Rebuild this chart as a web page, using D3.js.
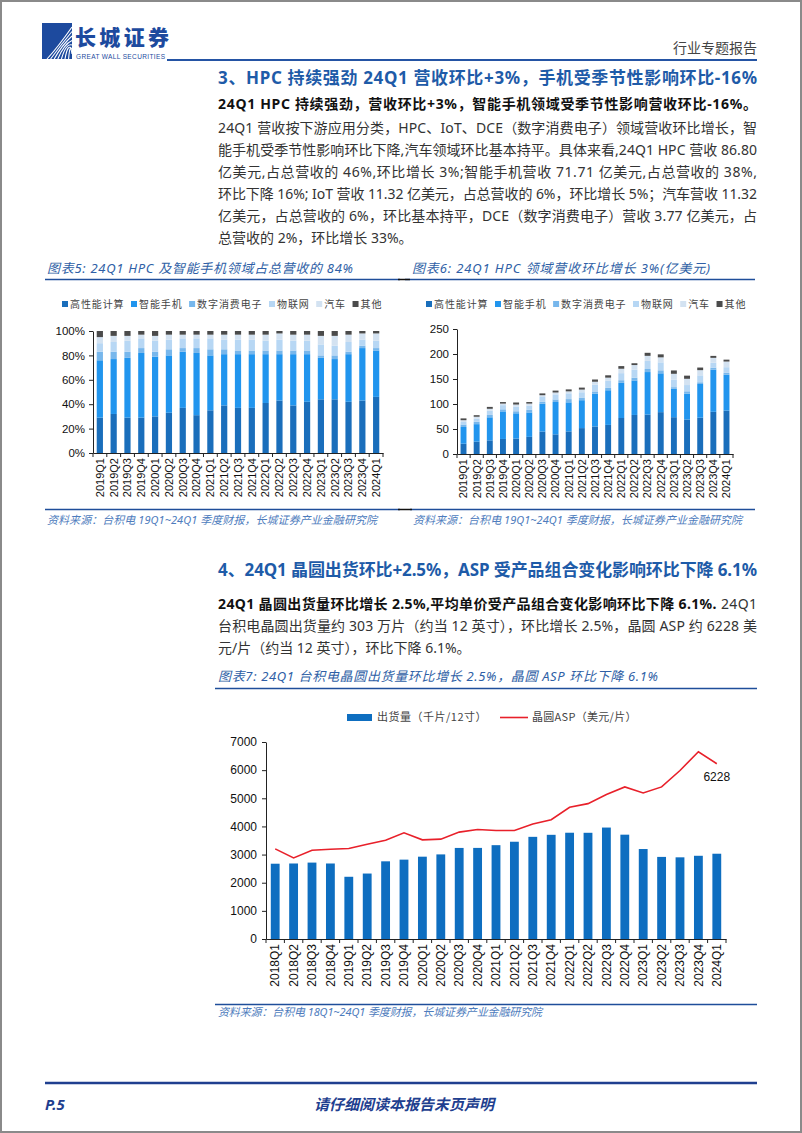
<!DOCTYPE html>
<html><head><meta charset="utf-8">
<script src="https://cdn.jsdelivr.net/npm/d3@7/dist/d3.min.js"></script>
<style>html,body{margin:0;padding:0;background:#fff;}svg{display:block;}</style>
</head><body>
<svg id="page" width="802" height="1133"></svg>
<script>
// ---------------- DATA ----------------
const quarters19 = ["2019Q1","2019Q2","2019Q3","2019Q4","2020Q1","2020Q2","2020Q3","2020Q4","2021Q1","2021Q2","2021Q3","2021Q4","2022Q1","2022Q2","2022Q3","2022Q4","2023Q1","2023Q2","2023Q3","2023Q4","2024Q1"];
const seriesNames = ["高性能计算","智能手机","数字消费电子","物联网","汽车","其他"];
// chart 5: share of revenue (%)
const shareHPC   = [29,32,29,29,30,33,37,31,35,39,37,37,41,43,39,42,44,44,42,43,46];
const sharePhone = [47,45,49,53,49,47,46,51,45,42,44,44,40,38,42,39,34,33,39,43,38];
const shareDCE   = [7,6,5,4,4,5,3,4,5,4,3,3,3,3,3,3,2,3,2,2,2];
const shareIoT   = [7,8,9,8,9,8,8,8,9,8,9,9,8,9,8,8,9,8,8,5,6];
const shareAuto  = [5,5,4,3,4,4,3,3,3,4,4,4,5,5,5,5,7,8,6,5,6];
const shareOther = [5,4,4,3,4,3,3,3,3,3,3,3,3,2,3,3,4,4,3,2,2];
const pctTicks = [0,20,40,60,80,100];
// chart 6: revenue (亿美元)
const revHPC   = [20.6,24.8,27.3,30.1,30.9,34.3,44.9,39.3,45.2,51.8,55.1,58.2,72.0,78.1,78.9,83.7,73.6,69.0,72.6,84.4,86.8];
const revPhone = [33.4,34.9,46.1,55.1,50.5,48.8,55.8,64.7,58.1,55.8,65.5,69.3,70.3,69.0,85.0,77.7,56.8,51.7,67.4,84.4,71.7];
const revDCE   = [5.0,4.7,4.7,4.2,4.1,5.2,3.6,5.1,6.5,5.3,4.5,4.7,5.3,5.4,6.1,6.0,3.3,4.7,3.5,3.9,3.8];
const revIoT   = [5.0,6.2,8.5,8.3,9.3,8.3,9.7,10.1,11.6,10.6,13.4,14.2,14.1,16.3,16.2,15.9,15.0,12.5,13.8,9.8,11.3];
const revAuto  = [3.6,3.9,3.8,3.1,4.1,4.2,3.6,3.8,3.9,5.3,6.0,6.3,8.8,9.1,10.1,10.0,11.7,12.5,10.4,9.8,11.3];
const revOther = [3.6,3.1,3.8,3.1,4.1,3.1,3.6,3.8,3.9,4.0,4.5,4.7,5.3,3.6,6.1,6.0,6.7,6.3,5.2,3.9,3.8];
const revTicks = [0,50,100,150,200,250];
// chart 7: wafer shipments and ASP
const quarters18 = ["2018Q1","2018Q2","2018Q3","2018Q4","2019Q1","2019Q2","2019Q3","2019Q4","2020Q1","2020Q2","2020Q3","2020Q4","2021Q1","2021Q2","2021Q3","2021Q4","2022Q1","2022Q2","2022Q3","2022Q4","2023Q1","2023Q2","2023Q3","2023Q4","2024Q1"];
const shipments = [2675,2683,2715,2683,2211,2326,2760,2820,2925,3006,3236,3237,3334,3456,3630,3702,3776,3774,3960,3707,3197,2917,2902,2957,3030];
const aspValues = [3202,2881,3155,3190,3214,3369,3512,3774,3524,3548,3798,3890,3857,3857,4083,4238,4679,4810,5131,5405,5190,5405,5988,6655,6228];
const waferTicks = [0,1000,2000,3000,4000,5000,6000,7000];
const legend7 = ["出货量（千片/12寸）","晶圆ASP（美元/片）"];

// ---------------- STYLE ----------------
const colors = ["#1A6EBB","#2195EE","#77B7EC","#B7D7F4","#D3E2F1","#4B4B4B"];
const BLUE_T = "#1E5BA8", BLUE_D = "#1F3F8F", CAP = "#2F5FA6", SRC = "#4E7CBD";
const BODY = "'Noto Sans','Noto Sans CJK SC',sans-serif";
const CJK = "'Noto Sans CJK SC',sans-serif";
const CHF = "'Liberation Sans','Noto Sans CJK SC',sans-serif";
const svg = d3.select("#page");

function txt(x, y, s, o = {}) {
  const t = svg.append("text").attr("x", x).attr("y", y).text(s)
    .attr("font-family", o.ff || BODY).attr("font-size", o.fs || 14).attr("fill", o.fill || "#333");
  if (o.fw) t.attr("font-weight", o.fw);
  if (o.fst) t.attr("font-style", o.fst);
  if (o.anchor) t.attr("text-anchor", o.anchor);
  if (o.len) t.attr("textLength", o.len).attr("lengthAdjust", "spacing");
  if (o.ls) t.attr("letter-spacing", o.ls);
  return t;
}
function hline(x1, x2, y, c, w) {
  svg.append("line").attr("x1", x1).attr("x2", x2).attr("y1", y).attr("y2", y).attr("stroke", c).attr("stroke-width", w);
}

// page border
svg.append("rect").attr("x", 1).attr("y", 1).attr("width", 800).attr("height", 1131).attr("fill", "none").attr("stroke", "#8a8a8a").attr("stroke-width", 2);

// ---------------- HEADER ----------------
svg.append("rect").attr("x", 42).attr("y", 23).attr("width", 30).attr("height", 36).attr("fill", "#1D4A9E");
for (let k = 0; k < 7; k++) {
  svg.append("path").attr("d", `M${47 + k * 3.6},59 Q${58 + k * 2},${47 - k} 72,${27 + k * 4.5}`)
    .attr("fill", "none").attr("stroke", "#fff").attr("stroke-width", 1.1);
}
txt(75, 45, "长城证券", { ff: CJK, fs: 21, fw: 900, fill: "#1D4A9E", len: 94 });
txt(76, 58.5, "GREAT WALL SECURITIES", { ff: "'Liberation Sans',sans-serif", fs: 6.5, fill: "#1D4A9E", len: 89 });
txt(757, 53, "行业专题报告", { ff: CJK, fs: 14, fill: "#444", anchor: "end" });
hline(167, 757, 60, "#2454A4", 2);

// ---------------- SECTION 3 ----------------
txt(218, 84, "3、HPC 持续强劲 24Q1 营收环比+3%，手机受季节性影响环比-16%", { fs: 17, fw: 700, fill: BLUE_T, len: 539 });
const body3 = [
  "能手机受季节性影响环比下降,汽车领域环比基本持平。具体来看,24Q1 HPC 营收 86.80",
  "亿美元,占总营收的 46%,环比增长 3%;智能手机营收 71.71 亿美元,占总营收的 38%,",
  "环比下降 16%; IoT 营收 11.32 亿美元，占总营收的 6%，环比增长 5%；汽车营收 11.32",
  "亿美元，占总营收的 6%，环比基本持平，DCE（数字消费电子）营收 3.77 亿美元，占"
];
txt(218, 109, "24Q1 HPC 持续强劲，营收环比+3%，智能手机领域受季节性影响营收环比-16%。", { fw: 700, fill: "#111", len: 539 });
txt(218, 133, "24Q1  营收按下游应用分类，HPC、IoT、DCE（数字消费电子）领域营收环比增长，智", { len: 539 });
body3.forEach((s, i) => txt(218, 155 + i * 22, s, { len: 539 }));
txt(218, 243, "总营收的 2%，环比增长 33%。", {});

// ---------------- CHART CAPTIONS ----------------
txt(47, 273, "图表5:  24Q1 HPC 及智能手机领域占总营收的 84%", { fs: 13, fst: "italic", fill: CAP, len: 306 });
txt(412, 273, "图表6:  24Q1 HPC 领域营收环比增长 3%(亿美元)", { fs: 13, fst: "italic", fill: CAP, len: 298 });
hline(45, 400, 279.5, "#1F4E9A", 1.5);
hline(405, 755, 279.5, "#1F4E9A", 1.5);
hline(398, 410, 279.5, "#111", 1.5);
hline(45, 400, 509.5, "#1F4E9A", 1.5);
hline(410, 755, 509.5, "#1F4E9A", 1.5);
hline(398, 412, 509.5, "#111", 1.5);
txt(47, 524, "资料来源：台积电 19Q1~24Q1 季度财报，长城证券产业金融研究院", { fs: 11, fst: "italic", fill: SRC, len: 330 });
txt(413, 524, "资料来源：台积电 19Q1~24Q1 季度财报，长城证券产业金融研究院", { fs: 11, fst: "italic", fill: SRC, len: 329 });

// ---------------- STACKED CHART helper ----------------
function legendRow(x0, y0) {
  let x = x0;
  seriesNames.forEach((n, i) => {
    svg.append("rect").attr("x", x).attr("y", y0 - 4).attr("width", 6).attr("height", 6).attr("fill", colors[i]);
    const t = txt(x + 8, y0 + 3, n, { ff: CJK, fs: 10, fill: "#444", ls: 0.9 });
    x += 8 + t.node().getComputedTextLength() + 6.5;
  });
}
function stackedChart(cfg) {
  const rows = quarters19.map((q, i) => {
    const r = { q };
    seriesNames.forEach((n, k) => r[n] = cfg.values[k][i]);
    return r;
  });
  const series = d3.stack().keys(seriesNames)(rows);
  const x = d3.scaleBand().domain(quarters19).range(cfg.xr).paddingInner(0.55).paddingOuter(0.27);
  const y = d3.scaleLinear().domain(cfg.yd).range(cfg.yr);
  const g = svg.append("g");
  series.forEach((s, k) => {
    g.selectAll(null).data(s).enter().append("rect")
      .attr("x", d => x(d.data.q)).attr("width", x.bandwidth())
      .attr("y", d => y(d[1])).attr("height", d => Math.max(0, y(d[0]) - y(d[1])))
      .attr("fill", colors[k]);
  });
  const ya = g.append("g").attr("transform", `translate(${cfg.xr[0]},0)`)
    .call(d3.axisLeft(y).tickValues(cfg.ticks).tickFormat(cfg.fmt).tickSize(4).tickSizeOuter(0).tickPadding(4));
  ya.selectAll("text").attr("font-family", CHF).attr("font-size", 11.5).attr("fill", "#111");
  ya.selectAll("line,path").attr("stroke", "#222");
  const xa = g.append("g").attr("transform", `translate(0,${cfg.yr[0]})`)
    .call(d3.axisBottom(x).tickSize(0).tickPadding(0).tickSizeOuter(0));
  xa.select("path").attr("stroke", "#222");
  xa.selectAll("text").attr("font-family", CHF).attr("font-size", 11).attr("fill", "#111")
    .attr("transform", "rotate(-90)").attr("text-anchor", "end").attr("x", -5).attr("y", 0).attr("dy", "0.35em");
  quarters19.concat([null]).forEach((q, i) => {
    const bx = cfg.xr[0] + (cfg.xr[1] - cfg.xr[0]) * i / quarters19.length;
    g.append("line").attr("x1", bx).attr("x2", bx).attr("y1", cfg.yr[0]).attr("y2", cfg.yr[0] + 4).attr("stroke", "#222");
  });
}

legendRow(62, 305);
stackedChart({
  values: [shareHPC, sharePhone, shareDCE, shareIoT, shareAuto, shareOther],
  xr: [93, 383], yd: [0, 100], yr: [453, 331], ticks: pctTicks, fmt: d => d + "%"
});
legendRow(426, 305);
stackedChart({
  values: [revHPC, revPhone, revDCE, revIoT, revAuto, revOther],
  xr: [457, 733], yd: [0, 250], yr: [454, 329], ticks: revTicks, fmt: d => d
});

// ---------------- SECTION 4 ----------------
txt(218, 576, "4、24Q1 晶圆出货环比+2.5%，ASP 受产品组合变化影响环比下降 6.1%", { fs: 17, fw: 700, fill: BLUE_T, len: 539 });
const l1 = svg.append("text").attr("x", 218).attr("y", 609).attr("font-family", BODY).attr("font-size", 14)
  .attr("textLength", 539).attr("lengthAdjust", "spacing");
l1.append("tspan").attr("font-weight", 700).attr("fill", "#111").text("24Q1 晶圆出货量环比增长 2.5%,平均单价受产品组合变化影响环比下降 6.1%.");
l1.append("tspan").attr("fill", "#333").text(" 24Q1");
txt(218, 631, "台积电晶圆出货量约 303 万片（约当 12 英寸），环比增长 2.5%，晶圆 ASP 约 6228 美", { len: 539 });
txt(218, 653, "元/片（约当 12 英寸），环比下降 6.1%。", {});
txt(218, 681, "图表7:  24Q1 台积电晶圆出货量环比增长 2.5%，晶圆 ASP 环比下降 6.1%", { fs: 13, fst: "italic", fill: CAP, len: 440 });
hline(215, 757, 688.5, "#1F4E9A", 1.5);

// ---------------- CHART 7 ----------------
(function () {
  const xr = [266, 726], yr = [939, 742];
  const x = d3.scaleBand().domain(quarters18).range(xr).paddingInner(0.52).paddingOuter(0.26);
  const y = d3.scaleLinear().domain([0, 7000]).range(yr);
  const g = svg.append("g");
  g.selectAll(null).data(shipments).enter().append("rect")
    .attr("x", (d, i) => x(quarters18[i])).attr("width", x.bandwidth())
    .attr("y", d => y(d)).attr("height", d => y(0) - y(d)).attr("fill", "#0E6EC0");
  const line = d3.line().x((d, i) => x(quarters18[i]) + x.bandwidth() / 2).y(d => y(d));
  g.append("path").datum(aspValues).attr("d", line).attr("fill", "none").attr("stroke", "#E8202A").attr("stroke-width", 1.6);
  const ya = g.append("g").attr("transform", `translate(${xr[0]},0)`)
    .call(d3.axisLeft(y).tickValues(waferTicks).tickFormat(d => d).tickSize(4).tickSizeOuter(0).tickPadding(5));
  ya.selectAll("text").attr("font-family", CHF).attr("font-size", 12).attr("fill", "#111");
  ya.selectAll("line,path").attr("stroke", "#222");
  const xa = g.append("g").attr("transform", `translate(0,${yr[0]})`)
    .call(d3.axisBottom(x).tickSize(0).tickPadding(0).tickSizeOuter(0));
  xa.select("path").attr("stroke", "#222");
  xa.selectAll("text").attr("font-family", CHF).attr("font-size", 12).attr("fill", "#111")
    .attr("transform", "rotate(-90)").attr("text-anchor", "end").attr("x", -5).attr("y", 0).attr("dy", "0.35em");
  quarters18.concat([null]).forEach((q, i) => {
    const bx = xr[0] + (xr[1] - xr[0]) * i / quarters18.length;
    g.append("line").attr("x1", bx).attr("x2", bx).attr("y1", yr[0]).attr("y2", yr[0] + 4).attr("stroke", "#222");
  });
  const li = aspValues.length - 1;
  txt(x(quarters18[li]) + x.bandwidth() / 2, y(aspValues[li]) + 17, aspValues[li], { ff: CHF, fs: 12, fill: "#111", anchor: "middle" });
  // legend
  svg.append("rect").attr("x", 347).attr("y", 714).attr("width", 25).attr("height", 7).attr("fill", "#0E6EC0");
  txt(377, 721, legend7[0], { ff: CJK, fs: 11, fill: "#444", ls: 0.5 });
  hline(500, 528, 717.5, "#E8202A", 1.6);
  txt(532, 721, legend7[1], { ff: CJK, fs: 11, fill: "#444", ls: 0.3 });
})();

hline(215, 757, 1004.5, "#1F4E9A", 1.5);
txt(218, 1016, "资料来源：台积电 18Q1~24Q1 季度财报，长城证券产业金融研究院", { fs: 11, fst: "italic", fill: SRC, len: 324 });

// ---------------- FOOTER ----------------
hline(45, 757, 1083, "#1F3F8F", 2.5);
txt(45, 1110, "P.5", { fs: 15, fw: 700, fst: "italic", fill: BLUE_D });
txt(404, 1110, "请仔细阅读本报告末页声明", { ff: CJK, fs: 15, fw: 700, fst: "italic", fill: BLUE_D, anchor: "middle" });
</script>
</body></html>
